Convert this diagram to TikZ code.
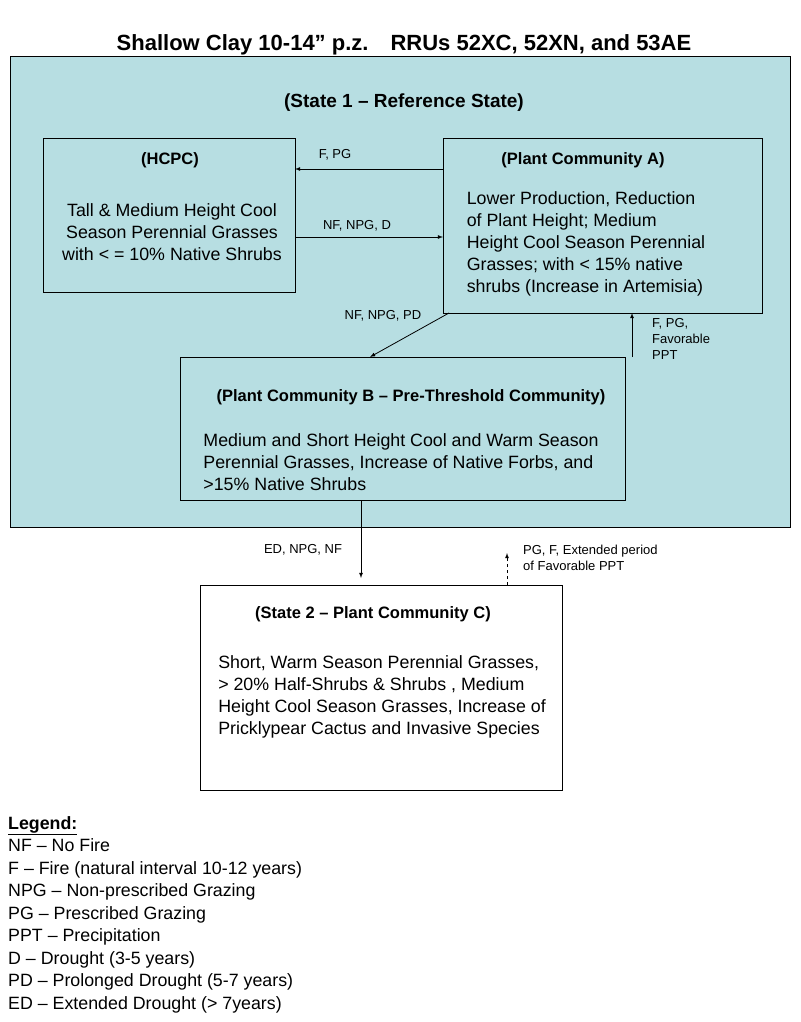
\documentclass[tikz,border=0pt]{standalone}
\usepackage{fontspec}
\setmainfont{Liberation Sans}
\definecolor{cy}{RGB}{183,222,226}
\begin{document}
\begin{tikzpicture}[x=1pt,y=-1pt,
  box/.style={draw,line width=1pt,fill=cy},
  txt/.style={align=left,font=\fontsize{17.8}{22}\selectfont,inner sep=0pt},
  ttl/.style={font=\bfseries\fontsize{16.5}{18}\selectfont,inner sep=0pt},
  lab/.style={font=\fontsize{13}{16}\selectfont,inner sep=0pt,align=left},
  arr/.style={-latex,line width=0.8pt}]
\useasboundingbox (0,0) rectangle (800,1022);
\node[font=\bfseries\fontsize{22}{24}\selectfont] (title) at (404,45) {Shallow Clay 10-14" p.z.\quad RRUs 52XC, 52XN, and 53AE};
\draw[box] (10,57) rectangle (790,527);
\node[ttl,font=\bfseries\fontsize{19}{20}\selectfont] (s1) at (404,103) {(State 1 -- Reference State)};
\draw[box] (43,138) rectangle (295,292);
\coordinate (hl) at (295,169); \coordinate (hl2) at (295,237);
\node[ttl] (hcpc) at (170,160) {(HCPC)};
\node[txt,align=center] (hcpct) at (172,232) {Tall \& Medium Height Cool\\Season Perennial Grasses\\with < = 10\% Native Shrubs};
\draw[box] (443,138) rectangle (762,313);
\coordinate (al) at (443,169); \coordinate (al2) at (443,237);
\node[ttl] (pca) at (583,160) {(Plant Community A)};
\node[txt] (pcat) at (586,244) {Lower Production, Reduction\\of Plant Height; Medium\\Height Cool Season Perennial\\Grasses; with < 15\% native\\shrubs (Increase in Artemisia)};
\draw[box] (180,357) rectangle (625,500);
\node[ttl] (pcb) at (411,397) {(Plant Community B -- Pre-Threshold Community)};
\node[txt] (pcbt) at (401,462) {Medium and Short Height Cool and Warm Season\\Perennial Grasses, Increase of Native Forbs, and\\>15\% Native Shrubs};
\draw[line width=1pt,fill=white] (200,585) rectangle (562,790);
\node[ttl] (s2) at (373,614) {(State 2 -- Plant Community C)};
\node[txt] (s2t) at (382,697) {Short, Warm Season Perennial Grasses,\\> 20\% Half-Shrubs \& Shrubs , Medium\\Height Cool Season Grasses, Increase of\\Pricklypear Cactus and Invasive Species};
\coordinate (b1) at (361,500); \coordinate (c1) at (361,578);
\coordinate (c2) at (507,585); \coordinate (b2) at (507,553);
\coordinate (bt) at (632,357); \coordinate (ab) at (632,313);
\coordinate (a3) at (449,313); \coordinate (b3) at (370,357);
\draw[arr] (al) -- (hl);
\draw[arr] (hl2) -- (al2);
\draw[arr] (a3) -- (b3);
\draw[arr] (bt) -- (ab);
\draw[arr] (b1) -- (c1);
\draw[arr,dashed] (c2) -- (b2);
\node[lab] (l1) at (335,155) {F, PG};
\node[lab] (l2) at (357,226) {NF, NPG, D};
\node[lab] (l3) at (383,316) {NF, NPG, PD};
\node[lab,anchor=north west] (l4) at (652,318) {F, PG,\\Favorable\\PPT};
\node[lab] (l5) at (303,550) {ED, NPG, NF};
\node[lab,anchor=north west] (l6) at (523,545) {PG, F, Extended period\\of Favorable PPT};
\node[anchor=north west,inner sep=0pt,align=left,font=\fontsize{17.8}{22.5}\selectfont] (leg) at (8,816) {\textbf{\underline{Legend:}}\\NF -- No Fire\\F -- Fire (natural interval 10-12 years)\\NPG -- Non-prescribed Grazing\\PG -- Prescribed Grazing\\PPT -- Precipitation\\D -- Drought (3-5 years)\\PD -- Prolonged Drought (5-7 years)\\ED -- Extended Drought (> 7years)};
\end{tikzpicture}
\end{document}
